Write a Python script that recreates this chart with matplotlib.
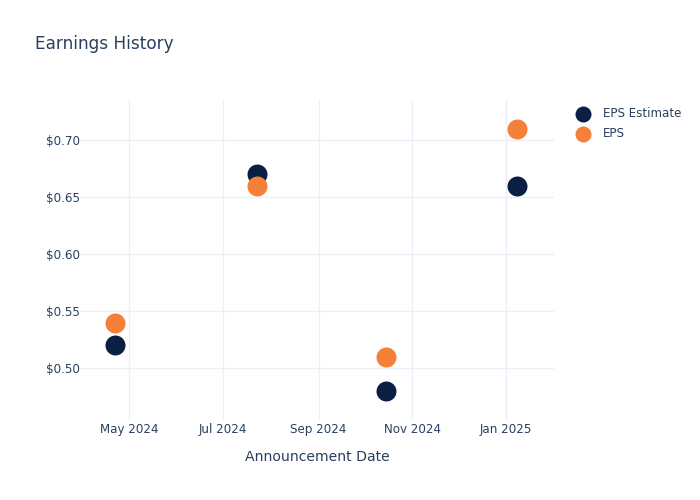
import matplotlib
matplotlib.use("Agg")
import matplotlib.pyplot as plt
import matplotlib.dates as mdates
import numpy as np
import datetime as dt

dates = ["2024-04-22", "2024-07-23", "2024-10-15", "2025-01-08"]
eps_estimate = [0.52, 0.67, 0.48, 0.66]
eps_actual = [0.54, 0.66, 0.51, 0.71]
series_names = ["EPS Estimate", "EPS"]
tick_dates = ["2024-05-01", "2024-07-01", "2024-09-01", "2024-11-01", "2025-01-01"]
y_ticks = [0.50, 0.55, 0.60, 0.65, 0.70]

txt = "#2a3f5f"
grid = "#EBF0F8"
navy = "#0B1F42"
orange = "#F5803A"

plt.rcParams['font.family'] = ['DejaVu Sans']

fig = plt.figure(figsize=(7, 5), dpi=100)
ax = fig.add_axes([80/700, 80/500, 474/700, 320/500])

x = [dt.datetime.strptime(d, "%Y-%m-%d") for d in dates]
ms = 207
ax.scatter(x, eps_estimate, s=ms, color=navy, label=series_names[0], zorder=3, linewidths=0)
ax.scatter(x, eps_actual, s=ms, color=orange, label=series_names[1], zorder=4, linewidths=0)

ax.set_xlim(dt.datetime(2024, 3, 30), dt.datetime(2025, 2, 1))
ax.set_ylim(0.4547, 0.735)

ax.set_xticks([dt.datetime.strptime(d, "%Y-%m-%d") for d in tick_dates])
ax.xaxis.set_major_formatter(mdates.DateFormatter("%b %Y"))
ax.set_yticks(y_ticks)
ax.set_yticklabels([f"${v:.2f}" for v in y_ticks])

for s in ax.spines.values():
    s.set_visible(False)
ax.grid(True, color=grid, linewidth=1)
ax.set_axisbelow(True)
ax.tick_params(axis='both', length=0, labelsize=8.6, colors=txt)
ax.tick_params(axis='x', pad=2)
ax.tick_params(axis='y', pad=0)

ax.set_xlabel("Announcement Date", fontsize=10.1, color=txt, labelpad=10)
fig.text(35/700, 1 - 44/500, "Earnings History", fontsize=12.2, color=txt, va='center', ha='left')

leg = fig.legend(loc='upper left', bbox_to_anchor=(571/700, 1 - 102/500), frameon=False,
                 fontsize=8.6, labelcolor=txt, handletextpad=1.1, labelspacing=0.6,
                 borderaxespad=0, handlelength=1.2, markerscale=0.8)

fig.savefig("out.png", dpi=100)
